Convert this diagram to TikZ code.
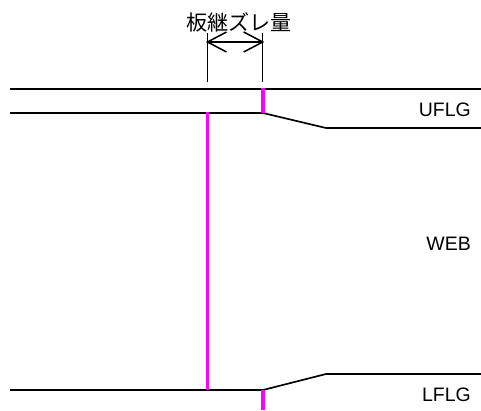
\documentclass[tikz,border=0pt]{standalone}
\usepackage{fontspec}
\setmainfont{Liberation Sans}
\newfontfamily\cjk{Noto Sans CJK JP}
\definecolor{mag}{RGB}{255,0,255}
\tikzset{
  x=0.75pt,y=-0.75pt,
  plate/.style={line width=1.25pt,black,line join=miter},
  seam/.style={line width=2.4pt,mag},
  dimline/.style={line width=1.15pt,black},
  lbl/.style={inner sep=0pt,anchor=base east,font=\fontsize{14.6}{16}\selectfont,text=black},
  ttl/.style={inner sep=0pt,font=\cjk\fontsize{15.8}{18}\selectfont,text=black}
}
\begin{document}
\begin{tikzpicture}
\useasboundingbox (0,0) rectangle (481,410);
\coordinate (t1) at (10,89); \coordinate (t2) at (481,89);
\coordinate (u1) at (10,113); \coordinate (u2) at (263,113); \coordinate (u3) at (326,128); \coordinate (u4) at (481,128);
\coordinate (l1) at (10,390); \coordinate (l2) at (263,390); \coordinate (l3) at (326,374); \coordinate (l4) at (481,374);
\coordinate (wu) at (207.5,112); \coordinate (wl) at (207.5,390);
\coordinate (fu) at (263,88); \coordinate (fl) at (263,410);
\coordinate (d1a) at (207.5,33); \coordinate (d1b) at (207.5,82);
\coordinate (d2a) at (262.7,33); \coordinate (d2b) at (262.7,82);
\coordinate (a1) at (207.5,42); \coordinate (a2) at (262.7,42);
\draw[plate] (t1) -- (t2);
\draw[plate] (u1) -- (u2) -- (u3) -- (u4);
\draw[plate] (l1) -- (l2) -- (l3) -- (l4);
\draw[seam] (wu) -- (wl);
\draw[seam] (fu) -- (u2);
\draw[seam] (l2) -- (fl);
\draw[dimline] (d1a) -- (d1b);
\draw[dimline] (d2a) -- (d2b);
\draw[dimline] (a1) -- (a2);
\draw[dimline] ([shift={(19,-10)}]a1) -- (a1) -- ([shift={(19,10)}]a1);
\draw[dimline] ([shift={(-19,-10)}]a2) -- (a2) -- ([shift={(-19,10)}]a2);
\node[ttl] (title) at (239,22) {板継ズレ量};
\node[lbl] (uflg) at (471,116) {UFLG};
\node[lbl] (web) at (471,250) {WEB};
\node[lbl] (lflg) at (471,401) {LFLG};
\end{tikzpicture}
\end{document}
